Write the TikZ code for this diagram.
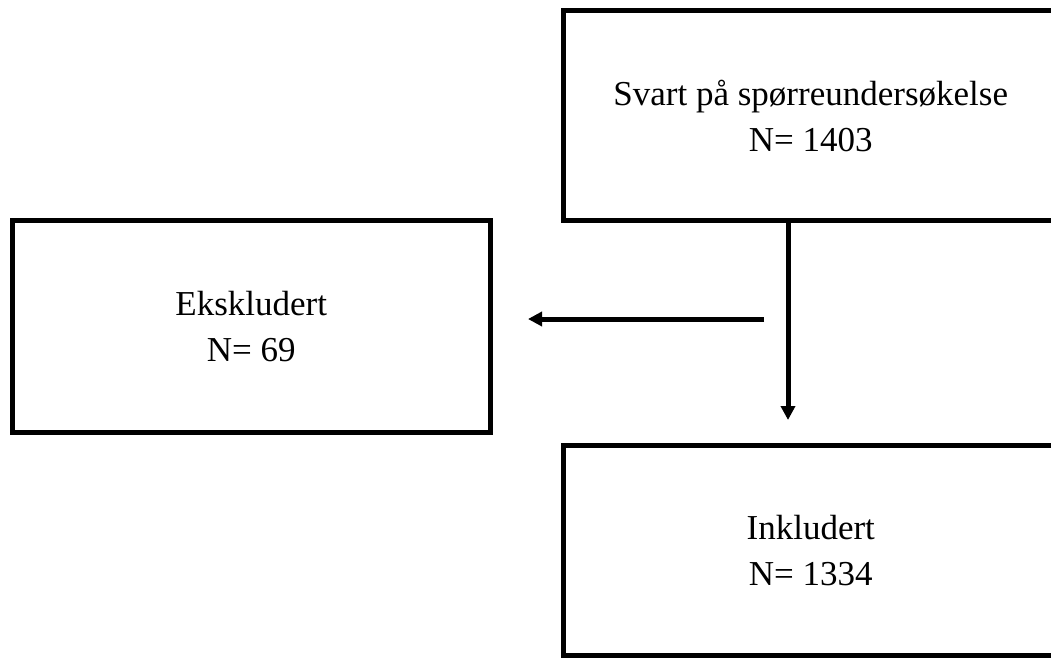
\documentclass[tikz,border=0pt]{standalone}
\usepackage{fontspec}
\setmainfont{Liberation Serif}
\usetikzlibrary{arrows.meta}
\tikzset{flowbox/.style={draw,line width=5pt,rectangle,inner sep=0pt,align=center,font=\fontsize{35}{46}\selectfont}}
\tikzset{flowarrow/.style={line width=5pt,-{Triangle[width=14pt,length=14pt]}}}
\newcommand{\pkt}[2]{\coordinate (#1) at (#2);}

\begin{document}
\begin{tikzpicture}[x=1pt,y=-1pt]
    \useasboundingbox (0,0) rectangle (1051,657);
    \clip (0,0) rectangle (1051,657);
    \node[flowbox,minimum width=495pt,minimum height=210pt] (svar) at (810.75,115.5) {Svart på spørreundersøkelse\\N= 1403};
    \node[flowbox,minimum width=477.5pt,minimum height=211.5pt] (eks) at (251.25,326.25) {Ekskludert\\N= 69};
    \node[flowbox,minimum width=495pt,minimum height=209.5pt] (ink) at (810.75,550.25) {Inkludert\\N= 1334};
    \pkt{v1}{788,220.5};
    \pkt{v2}{788,420};
    \pkt{h1}{764,319};
    \pkt{h2}{528,319};
    \draw[flowarrow] (v1)--(v2);
    \draw[flowarrow] (h1)--(h2);
  \end{tikzpicture}
\end{document}
